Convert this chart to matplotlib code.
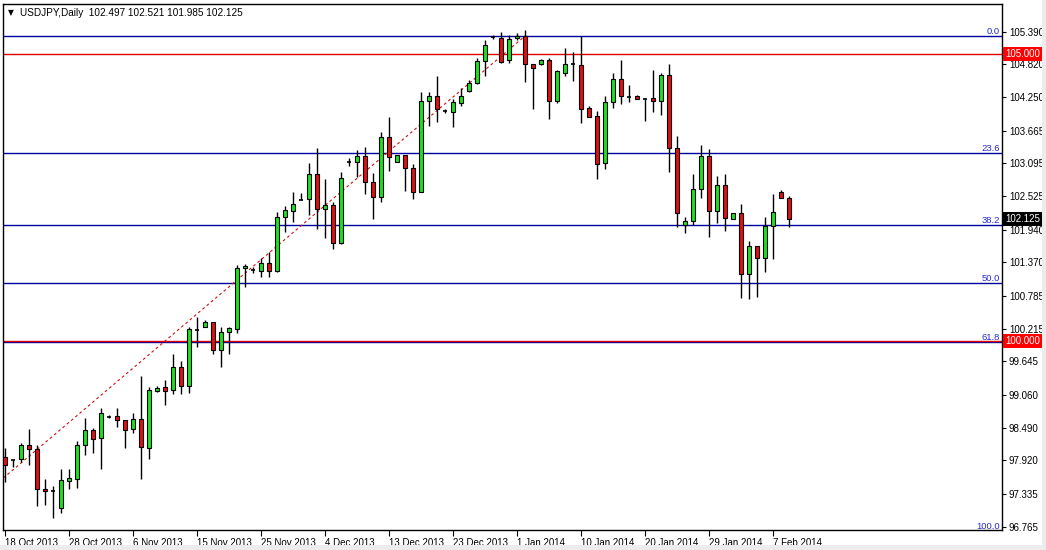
import matplotlib
matplotlib.use("Agg")
import matplotlib.pyplot as plt
from matplotlib.patches import Rectangle

# USDJPY daily candles, 18 Oct 2013 .. 10 Feb 2014 (Sunday bars included)
opens = [97.980, 97.927, 97.945, 98.189, 98.119, 97.422, 97.380, 97.091, 97.561, 97.596,
         98.189, 98.450, 98.311, 98.677, 98.694, 98.624, 98.467, 98.642, 98.136, 99.130,
         99.199, 99.147, 99.548, 99.217, 100.192, 100.245, 100.332, 99.844, 100.158, 100.210,
         101.273, 101.238, 101.220, 101.360, 101.220, 102.161, 102.266, 102.458, 102.475, 102.911,
         102.301, 102.371, 101.708, 103.120, 103.120, 103.224, 102.771, 102.510, 103.555, 103.120,
         103.242, 103.015, 102.597, 104.183, 104.270, 104.008, 103.991, 104.148, 104.357, 104.496,
         104.879, 105.298, 105.280, 104.897, 105.280, 105.315, 104.827, 104.827, 104.897, 104.183,
         104.670, 104.827, 104.810, 104.061, 103.921, 103.102, 104.165, 104.566, 104.252, 104.270,
         104.217, 104.235, 104.183, 104.636, 103.364, 102.022, 102.092, 102.649, 103.224, 102.266,
         102.719, 102.127, 102.231, 101.168, 101.656, 101.447, 102.005, 102.597, 102.497]
highs = [98.136, 97.935, 98.224, 98.467, 98.189, 97.596, 97.474, 97.771, 97.771, 98.258,
         98.659, 98.485, 98.833, 98.711, 98.833, 98.630, 98.746, 99.391, 99.199, 99.217,
         99.321, 99.774, 99.652, 100.245, 100.419, 100.367, 100.340, 100.245, 100.245, 101.325,
         101.342, 101.290, 101.447, 101.552, 102.248, 102.353, 102.597, 102.580, 103.102, 103.364,
         102.824, 102.423, 102.946, 103.189, 103.329, 103.381, 102.928, 103.642, 103.904, 103.245,
         103.250, 103.085, 104.339, 104.339, 104.618, 104.043, 104.217, 104.409, 104.548, 104.932,
         105.245, 105.332, 105.385, 105.332, 105.367, 105.420, 104.835, 104.914, 104.932, 104.723,
         105.106, 105.036, 105.315, 104.095, 104.008, 104.270, 104.670, 104.897, 104.461, 104.280,
         104.235, 104.723, 104.670, 104.827, 103.573, 102.161, 102.911, 103.416, 103.346, 102.876,
         102.911, 102.240, 102.388, 101.743, 101.665, 102.161, 102.562, 102.632, 102.521]
lows = [97.544, 97.805, 97.893, 97.840, 97.126, 97.143, 96.917, 97.004, 97.422, 97.439,
        98.014, 98.049, 97.771, 98.659, 98.502, 98.136, 98.398, 97.596, 97.945, 99.112,
        98.886, 99.077, 99.077, 99.095, 99.896, 100.245, 99.774, 99.548, 99.774, 100.140,
        100.942, 101.186, 101.116, 101.116, 101.203, 101.900, 102.074, 102.450, 102.196, 101.952,
        101.795, 101.604, 101.691, 103.050, 102.858, 102.562, 102.127, 102.423, 102.963, 103.115,
        102.614, 102.475, 102.590, 103.747, 103.817, 103.973, 103.730, 104.095, 104.339, 104.479,
        104.618, 105.263, 104.850, 104.845, 105.245, 104.514, 104.043, 104.810, 103.869, 104.148,
        104.618, 104.531, 103.799, 103.904, 102.824, 102.998, 104.061, 104.130, 104.165, 104.210,
        103.834, 103.991, 103.939, 102.946, 101.987, 101.883, 102.022, 102.492, 101.813, 102.057,
        101.918, 102.120, 100.750, 100.733, 100.767, 101.203, 101.430, 102.492, 101.985]
closes = [97.840, 97.920, 98.189, 98.119, 97.422, 97.387, 97.370, 97.579, 97.614, 98.189,
          98.450, 98.293, 98.746, 98.680, 98.624, 98.450, 98.642, 98.154, 99.147, 99.182,
          99.130, 99.548, 99.217, 100.210, 100.185, 100.332, 99.844, 100.158, 100.227, 101.273,
          101.308, 101.245, 101.360, 101.220, 102.161, 102.283, 102.388, 102.458, 102.911, 102.301,
          102.371, 101.708, 102.841, 103.125, 103.224, 102.771, 102.510, 103.555, 103.207, 103.242,
          103.015, 102.597, 104.183, 104.270, 104.043, 104.012, 104.165, 104.270, 104.496, 104.879,
          105.158, 105.290, 104.862, 105.263, 105.315, 104.827, 104.757, 104.897, 104.183, 104.705,
          104.827, 104.820, 104.043, 103.904, 103.085, 104.165, 104.566, 104.270, 104.252, 104.217,
          104.217, 104.183, 104.636, 103.364, 102.231, 102.092, 102.649, 103.224, 102.266, 102.719,
          102.144, 102.231, 101.168, 101.656, 101.447, 102.005, 102.248, 102.492, 102.125]

date_labels = ["18 Oct 2013", "28 Oct 2013", "6 Nov 2013", "15 Nov 2013", "25 Nov 2013",
               "4 Dec 2013", "13 Dec 2013", "23 Dec 2013", "1 Jan 2014", "10 Jan 2014",
               "20 Jan 2014", "29 Jan 2014", "7 Feb 2014"]
price_ticks = [105.390, 104.820, 104.250, 103.665, 103.095, 102.525, 101.940, 101.370,
               100.785, 100.215, 99.645, 99.060, 98.490, 97.920, 97.335, 96.765]

fib_names = ["0.0", "23.6", "38.2", "50.0", "61.8", "100.0"]
fib_ratios = [0.0, 0.236, 0.382, 0.5, 0.618, 1.0]
fib_high = 105.315
fib_low = 96.694
fib_low_bar = -8
fib_high_bar = 65
alert_levels = [105.000, 100.000]
last_price = 102.125

BULL = "#1fe01f"
BEAR = "#e01010"
FIB_BLUE = "#0000a0"

W, H = 1046, 550
fig = plt.figure(figsize=(W / 100, H / 100), dpi=100)
fig.patch.set_facecolor("white")

# plot area in pixels: x 3..1002, y 4..530
left, right, top, bottom = 3, 1002, 4, 530
ax = fig.add_axes([left / W, 1 - bottom / H, (right - left) / W, (bottom - top) / H])
ax.set_facecolor("white")

px_per_bar = 8.0
x0 = -(5 - left) / px_per_bar
x1 = x0 + (right - left) / px_per_bar
ax.set_xlim(x0, x1)
ax.set_ylim(96.708, 105.873)

# fibo levels
span = fib_high - fib_low
for name, r in zip(fib_names, fib_ratios):
    lvl = fib_high - r * span
    ax.axhline(lvl, color=FIB_BLUE, lw=1.0, zorder=1)
    ax.text(0.998, lvl, name, transform=ax.get_yaxis_transform(), ha="right", va="bottom",
            fontsize=6.8, color="#2a2ad0", family="Liberation Sans", zorder=2)
for lvl in alert_levels:
    ax.axhline(lvl, color="#e00000", lw=1.0, zorder=1)

ax.plot([fib_low_bar, fib_high_bar], [fib_low, fib_high], color="#d01010", lw=0.8,
        ls=(0, (2.5, 2.5)), zorder=1.5)

# candles
body_w = 0.62
for i, (o, h, l, c) in enumerate(zip(opens, highs, lows, closes)):
    ax.plot([i, i], [l, h], color="black", lw=1.0, zorder=3, solid_capstyle="butt")
    if abs(c - o) < 0.02:
        ax.plot([i - body_w / 2, i + body_w / 2], [o, o], color="black", lw=1.2, zorder=4,
                solid_capstyle="butt")
        continue
    color = BULL if c > o else BEAR
    ax.add_patch(Rectangle((i - body_w / 2, min(o, c)), body_w, abs(c - o),
                           facecolor=color, edgecolor="black", lw=0.8, zorder=4))

# axes styling
for s in ax.spines.values():
    s.set_color("black")
    s.set_linewidth(1.0)

ax.yaxis.tick_right()
ax.set_yticks(price_ticks)
ax.set_yticklabels([f"{p:.3f}" for p in price_ticks], fontsize=7, family="Liberation Sans")
ax.tick_params(axis="y", direction="out", length=3, width=0.8, pad=2, colors="black")

ax.set_xticks([8 * k for k in range(len(date_labels))])
ax.set_xticklabels(date_labels, fontsize=7, family="Liberation Sans", ha="left")
ax.tick_params(axis="x", direction="out", length=4, width=0.8, pad=2, colors="black")
for lab in ax.get_xticklabels():
    lab.set_x(lab.get_position()[0])

# price tags on the right scale
tags = [(105.000, "#ff0000"), (100.000, "#ff0000"), (last_price, "black")]
for p, bg in tags:
    ax.text(1.003, p, f"{p:.3f}", transform=ax.get_yaxis_transform(), ha="left", va="center",
            fontsize=7, family="Liberation Sans", color="white", clip_on=False,
            bbox=dict(facecolor=bg, edgecolor="none", boxstyle="square,pad=0.18"))

# header
fig.text(8 / W, 1 - 12.5 / H, "\u25bc", fontsize=5.5, va="center", ha="left", color="black")
fig.text(20 / W, 1 - 12.5 / H, "USDJPY,Daily  102.497 102.521 101.985 102.125", fontsize=7.2,
         family="Liberation Sans", va="center", ha="left", color="black")

# window chrome: light gray edge strips
fig.add_artist(Rectangle((0, 0), 1, 5 / H, transform=fig.transFigure, facecolor="#ececec",
                         edgecolor="none"))
fig.add_artist(Rectangle((1 - 4 / W, 0), 4 / W, 1, transform=fig.transFigure, facecolor="#ececec",
                         edgecolor="none"))

fig.savefig("out.png", dpi=100)
